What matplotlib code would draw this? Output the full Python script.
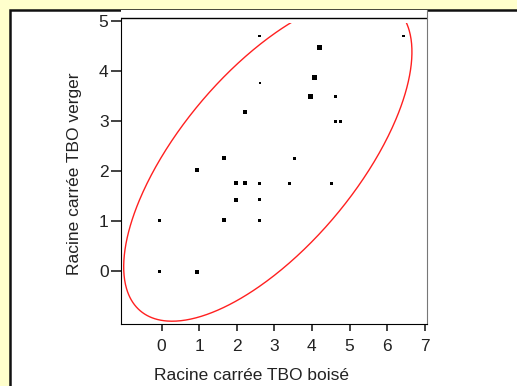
import numpy as np
import matplotlib
matplotlib.use("Agg")
import matplotlib.pyplot as plt
from matplotlib.patches import Rectangle

plt.rcParams["font.family"] = ["Liberation Sans", "DejaVu Sans"]

# data
boise = [2.61, 6.44, 4.20, 4.07, 2.61, 3.96, 4.63, 2.23, 4.63, 4.76, 1.67, 3.54, 0.95,
         1.98, 2.23, 2.61, 3.41, 4.53, 1.98, 2.61, -0.06, 1.67, 2.61, -0.06, 0.95]
verger = [4.70, 4.70, 4.47, 3.87, 3.75, 3.49, 3.49, 3.18, 2.99, 2.99, 2.25, 2.25, 2.01,
          1.75, 1.75, 1.75, 1.75, 1.75, 1.42, 1.42, 1.01, 1.01, 1.01, -0.02, -0.02]
sizes = [4, 4, 9, 9, 2, 9, 5, 9, 7, 7, 9, 4, 9, 9, 9, 4, 4, 4, 9, 4, 4, 9, 4, 4, 10]

# density ellipse: centre and shape matrix
ell_center = [2.827, 2.230]
ell_shape = [[14.688, 8.247], [8.247, 10.498]]
ell_top = 4.95  # ellipse is cut off here

xticks = [0, 1, 2, 3, 4, 5, 6, 7]
yticks = [0, 1, 2, 3, 4, 5]

L = np.linalg.cholesky(np.array(ell_shape))
# start the outline at its highest point so the seam falls in the cut part
t0 = np.arctan2(L[1, 1], L[1, 0])
t = t0 + np.linspace(0, 2 * np.pi, 600)
curve = np.array(ell_center)[:, None] + L @ np.vstack([np.cos(t), np.sin(t)])

fig = plt.figure(figsize=(5.17, 3.86), dpi=100, facecolor="#FFFFCC")
fig.patches.append(Rectangle((10/517, -0.1), 1.2, (386-10)/386 + 0.1, transform=fig.transFigure,
                             facecolor="white", edgecolor="#111111", lw=1.8, zorder=-1))

ax = fig.add_axes([121/517, 62/386, 306/517, 314/386])
ax.set_facecolor("white")
line, = ax.plot(curve[0], curve[1], color="#ff2020", lw=1)
line.set_clip_path(Rectangle((-2, -2), 12, ell_top + 2, transform=ax.transData))
ax.scatter(boise, verger, s=sizes, marker="s", color="black", linewidths=0, zorder=3)
ax.axhline(5.05, color="black", lw=1)
ax.set_xlim(-1.077, 7.06)
ax.set_ylim(-1.066, 5.22)
ax.set_xticks(xticks)
ax.set_yticks(yticks)
ax.spines["top"].set_visible(False)
ax.spines["left"].set_bounds(-1.066, 5.05)
ax.spines["right"].set_color("#777777")
ax.tick_params(axis="x", length=5, width=1.2, pad=6, labelsize=12.5, colors="#222222")
ax.tick_params(axis="y", length=7, width=1.2, pad=2, labelsize=12.5, colors="#222222")
fig.text(252/517, 1 - 376/386, "Racine carrée TBO boisé", ha="center", va="center", fontsize=12.5, color="#222222")
fig.text(75/517, 1 - 174/386, "Racine carrée TBO verger", ha="center", va="center", rotation=90, fontsize=12.5, color="#222222")

fig.savefig("out.png", dpi=100, facecolor=fig.get_facecolor())
